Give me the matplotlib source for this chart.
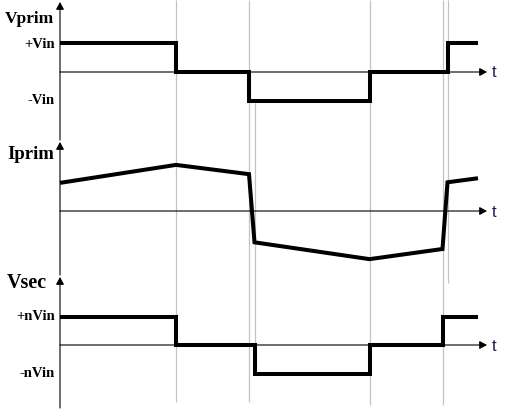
import matplotlib
matplotlib.use("Agg")
import matplotlib.pyplot as plt

# ---- data (time in arbitrary units, levels normalised) ----
t_vprim = [0, 11.6, 18.9, 30.95, 38.75, 41.8]
v_prim = [1, 0, -1, 0, 1, 1]

t_iprim = [0, 11.6, 18.9, 19.45, 30.95, 38.25, 38.75, 41.8]
i_prim = [0.97, 1.59, 1.27, -1.08, -1.66, -1.31, 0.99, 1.13]

t_vsec = [0, 11.6, 19.45, 30.95, 38.25, 41.8]
v_sec = [1, 0, -1, 0, 1, 1]

guide_times = [11.6, 18.9, 19.45, 30.95, 38.25, 38.75]

panel_titles = ["Vprim", "Iprim", "Vsec"]
vprim_ticks = ["+Vin", "-Vin"]
vsec_ticks = ["+nVin", "-nVin"]
t_label = "t"

# ---- layout ----
W, H = 512, 418
fig = plt.figure(figsize=(W / 100, H / 100), dpi=100)
XL = (-6, 45.2)
t_end_axis = 42.7

# background axes for guide lines (pixel rows for y)
bg = fig.add_axes([0, 0, 1, 1], zorder=0)
bg.set_xlim(XL)
bg.set_ylim(H, 0)
bg.axis("off")
guide_spans = [(0, 402), (0, 402), (103, 345), (0, 405), (0, 405), (0, 283)]
for gt, (y0, y1) in zip(guide_times, guide_spans):
    bg.plot([gt, gt], [y0, y1], color="#c3c3c3", lw=0.9, solid_capstyle="butt")

# panel bands: (top px, bottom px, zero px, unit px, axis bottom px, arrow tip px)
bands = [
    (0, 140, 72, 29.0, 140, 2),
    (140, 275, 211, 29.0, 275, 142),
    (275, 418, 345, 28.5, 408, 277),
]

series = [
    (t_vprim, v_prim, "step"),
    (t_iprim, i_prim, "line"),
    (t_vsec, v_sec, "step"),
]

axes = []
for (top, bot, zero, unit, abot, atip), (tx, vy, kind) in zip(bands, series):
    ax = fig.add_axes([0, 1 - bot / H, 1, (bot - top) / H], zorder=1)
    ax.patch.set_alpha(0)
    ax.set_xlim(XL)
    ax.set_ylim(-(bot - zero) / unit, (zero - top) / unit)
    ax.axis("off")
    # axes lines
    ybot = -(abot - zero) / unit
    ytip = (zero - atip) / unit
    ax.annotate("", xy=(0, ytip), xytext=(0, ybot),
                arrowprops=dict(arrowstyle="-|>,head_length=0.55,head_width=0.3",
                                lw=0.8, color="black", mutation_scale=8,
                                shrinkA=0, shrinkB=0),
                annotation_clip=False)
    ax.annotate("", xy=(t_end_axis, 0), xytext=(0, 0),
                arrowprops=dict(arrowstyle="-|>,head_length=0.55,head_width=0.3",
                                lw=0.8, color="black", mutation_scale=8,
                                shrinkA=0, shrinkB=0),
                annotation_clip=False)
    if kind == "step":
        ax.step(tx, vy, where="post", color="black", lw=2.9,
                solid_joinstyle="miter", solid_capstyle="butt", zorder=3)
    else:
        ax.plot(tx, vy, color="black", lw=2.9,
                solid_joinstyle="miter", solid_capstyle="butt", zorder=3)
    axes.append(ax)


def ftext(x, y, s, **kw):
    fig.text(x / W, 1 - y / H, s, **kw)


serif = dict(family="Liberation Serif", weight="bold", color="black")

ftext(5, 23, panel_titles[0], fontsize=12.5, ha="left", va="baseline", **serif)
ftext(7, 159, panel_titles[1], fontsize=13.5, ha="left", va="baseline", **serif)
ftext(7, 288, panel_titles[2], fontsize=14.5, ha="left", va="baseline", **serif)

ftext(55, 48, vprim_ticks[0], fontsize=10.5, ha="right", va="baseline", **serif)
ftext(55, 104, vprim_ticks[1], fontsize=10.5, ha="right", va="baseline", **serif)
ftext(55, 320, vsec_ticks[0], fontsize=10.5, ha="right", va="baseline", **serif)
ftext(55, 377, vsec_ticks[1], fontsize=10.5, ha="right", va="baseline", **serif)

for yb in (77, 217, 351):
    ftext(492, yb, t_label, fontsize=12, family="Liberation Sans",
          color="#1c1c4a", ha="left", va="baseline")

fig.savefig("out.png", dpi=100)
